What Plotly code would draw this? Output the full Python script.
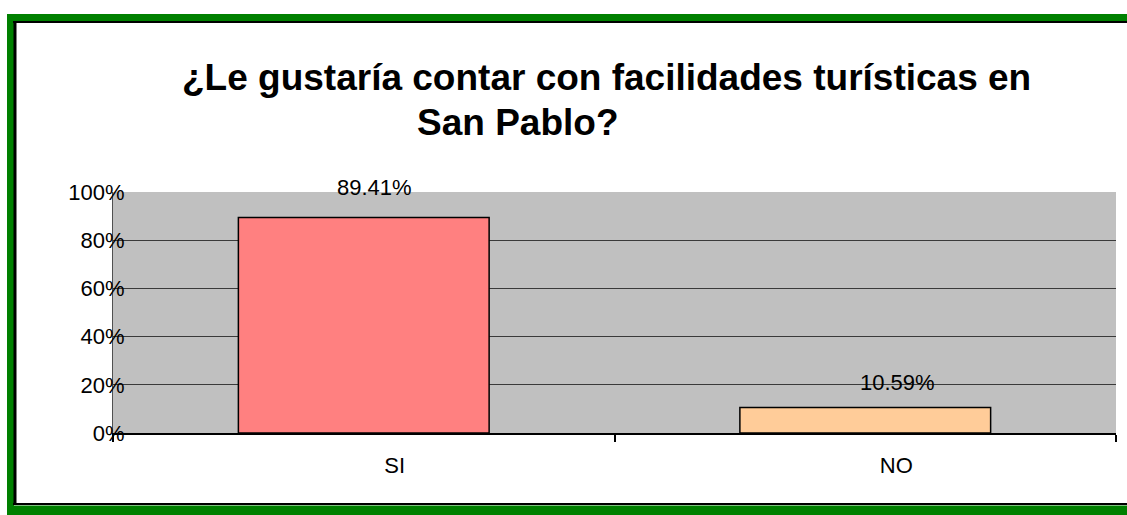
import plotly.graph_objects as go

# datos
respuestas = ["SI", "NO"]
porcentajes = [0.8941, 0.1059]
etiquetas = ["89.41%", "10.59%"]
y_ticks = [0, 0.2, 0.4, 0.6, 0.8, 1.0]
y_tick_text = ["0%", "20%", "40%", "60%", "80%", "100%"]

titulo_1 = "¿Le gustaría contar con facilidades turísticas en"
titulo_2 = "San Pablo?"

BAR_COLORS = ["#FF8080", "#FFCC99"]
GREEN = "#008000"
FONT = "Arial, Liberation Sans, sans-serif"

W, H = 1127, 515
L, R, T, B = 113, 11, 192, 82
PW, PH = W - L - R, H - T - B


def px_x(x):
    return (x - L) / PW


def px_y(y):
    return (H - B - y) / PH


fig = go.Figure()
fig.add_trace(go.Bar(
    x=respuestas, y=porcentajes,
    width=0.5,
    marker=dict(color=BAR_COLORS, line=dict(color="#000000", width=1.5)),
    hoverinfo="skip", showlegend=False,
))

# etiquetas de valor sobre las barras (offsets en px como en el original)
label_shift = [(11, 30), (32, 25)]
for cat, val, txt, (dx, dy) in zip(respuestas, porcentajes, etiquetas, label_shift):
    fig.add_annotation(
        x=cat, y=val, text=txt, showarrow=False,
        xshift=dx, yshift=dy, yanchor="middle",
        font=dict(family=FONT, size=22, color="#000000"),
    )

# titulo en dos lineas, alineado como en el original
fig.add_annotation(
    text=f"<b>{titulo_1}</b>", showarrow=False,
    xref="paper", yref="paper", x=px_x(180), y=px_y(78),
    xanchor="left", yanchor="middle",
    font=dict(family=FONT, size=37, color="#000000"),
)
fig.add_annotation(
    text=f"<b>{titulo_2}</b>", showarrow=False,
    xref="paper", yref="paper", x=px_x(415), y=px_y(123),
    xanchor="left", yanchor="middle",
    font=dict(family=FONT, size=37, color="#000000"),
)

# marco verde / negro (abierto a la derecha, como en el original)
frame = [
    (10.5, 14, 10.5, 520, GREEN, 7),
    (7, 17.5, 1127, 17.5, GREEN, 7),
    (7, 510.5, 1127, 510.5, GREEN, 10),
    (15, 21, 15, 505, "#000000", 3),
    (13, 22, 1127, 22, "#000000", 2),
    (13, 504, 1127, 504, "#000000", 2),
]
for x0, y0, x1, y1, c, w in frame:
    fig.add_shape(
        type="line", xref="paper", yref="paper",
        x0=px_x(x0), y0=px_y(y0), x1=px_x(x1), y1=px_y(y1),
        line=dict(color=c, width=w),
    )

fig.update_layout(
    width=W, height=H,
    margin=dict(l=L, r=R, t=T, b=B, pad=0),
    paper_bgcolor="#FFFFFF",
    plot_bgcolor="#C0C0C0",
    font=dict(family=FONT, size=22, color="#000000"),
    showlegend=False,
    bargap=0.5,
)
fig.update_xaxes(
    range=[-0.5, 1.5],
    showline=True, linecolor="#000000", linewidth=1.5,
    ticks="outside", tickson="boundaries", ticklen=7, tickcolor="#000000", tickwidth=1.5,
    showgrid=False,
    tickfont=dict(family=FONT, size=22),
    ticklabelshift=31, ticklabelstandoff=12,
)
fig.update_yaxes(
    range=[0, 1],
    tickvals=y_ticks, ticktext=y_tick_text,
    showline=True, linecolor="#505050", linewidth=1,
    showgrid=True, gridcolor="#3A3A3A", gridwidth=1,
    zeroline=False,
    ticks="",
    tickfont=dict(family=FONT, size=22),
    ticklabelstandoff=-17,
)

fig.write_html(
    "out.html",
    config={"displayModeBar": False},
    post_script="document.body.style.margin='0';document.body.style.overflow='hidden';",
)
